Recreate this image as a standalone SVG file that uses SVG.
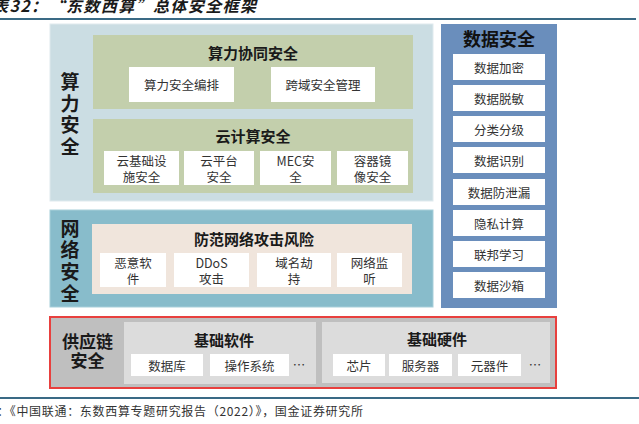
<svg xmlns="http://www.w3.org/2000/svg" width="639" height="424" viewBox="0 0 639 424">
<style>
text{font-family:"Noto Sans CJK SC","Noto Sans",sans-serif;fill:#262626;text-anchor:middle;dominant-baseline:central}
.wb{fill:#ffffff}
.t15{font-size:15px;font-weight:bold;fill:#1a1a1a}
.t13{font-size:12.5px;fill:#333333}
.big{font-size:19px;font-weight:bold;fill:#1a1a1a}
.rule{stroke:#3a6a85;stroke-width:2}
</style>
<rect width="639" height="424" fill="#ffffff"/>
<text x="-8" y="5" textLength="264" lengthAdjust="spacing" style="text-anchor:start;font-size:16px;font-style:italic;font-weight:bold;fill:#1a1a1a">表32：“东数西算”总体安全框架</text>
<line class="rule" x1="0" y1="19" x2="636" y2="19"/>
<line class="rule" x1="0" y1="398" x2="639" y2="398"/>
<text x="-3" y="410" textLength="366" lengthAdjust="spacing" style="text-anchor:start;font-size:12px;fill:#333333">：《中国联通：东数西算专题研究报告（2022）》，国金证券研究所</text>

<g id="compute-security">
<rect x="50" y="24" width="383" height="177" fill="#cbdde3" stroke="#dfeaee" stroke-width="1"/>
<text class="big"><tspan x="70" y="80">算</tspan><tspan x="70" y="102">力</tspan><tspan x="70" y="123">安</tspan><tspan x="70" y="145">全</tspan></text>
</g>
<g id="compute-collab">
<rect x="93" y="35" width="320" height="74" fill="#c3cfac"/>
<text class="t15" x="253" y="52">算力协同安全</text>
<rect class="wb" x="129" y="67" width="105" height="35"/>
<text class="t13" x="181.5" y="84.5">算力安全编排</text>
<rect class="wb" x="271" y="67" width="104" height="35"/>
<text class="t13" x="323" y="84.5">跨域安全管理</text>
</g>
<g id="cloud-security">
<rect x="93" y="119" width="320" height="74" fill="#c3cfac"/>
<text class="t15" x="253" y="135">云计算安全</text>
<rect class="wb" x="104" y="151" width="75" height="34"/>
<text class="t13"><tspan x="141.5" y="159.5">云基础设</tspan><tspan x="141.5" y="176">施安全</tspan></text>
<rect class="wb" x="184" y="151" width="70" height="34"/>
<text class="t13"><tspan x="219" y="159.5">云平台</tspan><tspan x="219" y="176">安全</tspan></text>
<rect class="wb" x="260" y="151" width="71" height="34"/>
<text class="t13"><tspan x="295.5" y="159.5">MEC安</tspan><tspan x="295.5" y="176">全</tspan></text>
<rect class="wb" x="337" y="151" width="71" height="34"/>
<text class="t13"><tspan x="372.5" y="159.5">容器镜</tspan><tspan x="372.5" y="176">像安全</tspan></text>
</g>

<g id="network-security">
<rect x="50" y="210" width="383" height="97" fill="#88bccb" stroke="#a7cfda" stroke-width="1"/>
<text class="big"><tspan x="70" y="227">网</tspan><tspan x="70" y="248">络</tspan><tspan x="70" y="270">安</tspan><tspan x="70" y="292">全</tspan></text>
</g>
<g id="network-risk">
<rect x="92" y="224" width="320" height="70" fill="#f0e5dc"/>
<text class="t15" x="254" y="238">防范网络攻击风险</text>
<rect class="wb" x="100" y="253" width="66" height="34"/>
<text class="t13"><tspan x="133" y="262">恶意软</tspan><tspan x="133" y="278">件</tspan></text>
<rect class="wb" x="174" y="253" width="75" height="34"/>
<text class="t13"><tspan x="211.5" y="262">DDoS</tspan><tspan x="211.5" y="278">攻击</tspan></text>
<rect class="wb" x="257" y="253" width="74" height="34"/>
<text class="t13"><tspan x="294" y="262">域名劫</tspan><tspan x="294" y="278">持</tspan></text>
<rect class="wb" x="337" y="253" width="65" height="34"/>
<text class="t13"><tspan x="369.5" y="262">网络监</tspan><tspan x="369.5" y="278">听</tspan></text>
</g>

<g id="data-security">
<rect x="441" y="24" width="116" height="284" fill="#6a8ebc"/>
<text x="499" y="38" style="font-size:18px;font-weight:bold;fill:#111111">数据安全</text>
<rect class="wb" x="453" y="54" width="92" height="26"/>
<text class="t13" x="499" y="67">数据加密</text>
<rect class="wb" x="453" y="85" width="92" height="26"/>
<text class="t13" x="499" y="98">数据脱敏</text>
<rect class="wb" x="453" y="116" width="92" height="26"/>
<text class="t13" x="499" y="129">分类分级</text>
<rect class="wb" x="453" y="147" width="92" height="26"/>
<text class="t13" x="499" y="160">数据识别</text>
<rect class="wb" x="453" y="179" width="92" height="26"/>
<text class="t13" x="499" y="192">数据防泄漏</text>
<rect class="wb" x="453" y="210" width="92" height="26"/>
<text class="t13" x="499" y="223">隐私计算</text>
<rect class="wb" x="453" y="241" width="92" height="26"/>
<text class="t13" x="499" y="254">联邦学习</text>
<rect class="wb" x="453" y="272" width="92" height="26"/>
<text class="t13" x="499" y="285">数据沙箱</text>
</g>

<g id="supply-chain">
<rect x="50" y="317" width="506" height="71" fill="#bfbfbf" stroke="#e8403e" stroke-width="2"/>
<text style="font-size:17px;font-weight:bold;fill:#1a1a1a"><tspan x="87.5" y="340">供应链</tspan><tspan x="87.5" y="359">安全</tspan></text>
</g>
<g id="basic-software">
<rect x="124" y="322" width="192" height="62" fill="#dcdcdc"/>
<text class="t15" x="224" y="339">基础软件</text>
<rect class="wb" x="131" y="354" width="72" height="22"/>
<text class="t13" x="167" y="365">数据库</text>
<rect class="wb" x="210" y="354" width="79" height="22"/>
<text class="t13" x="249.5" y="365">操作系统</text>
<text class="t13" x="299" y="364">…</text>
</g>
<g id="basic-hardware">
<rect x="322" y="322" width="228" height="61" fill="#dcdcdc"/>
<text class="t15" x="437" y="338">基础硬件</text>
<rect class="wb" x="333" y="354" width="52" height="22"/>
<text class="t13" x="359" y="365">芯片</text>
<rect class="wb" x="389" y="354" width="63" height="22"/>
<text class="t13" x="420.5" y="365">服务器</text>
<rect class="wb" x="458" y="354" width="63" height="22"/>
<text class="t13" x="489.5" y="365">元器件</text>
<text class="t13" x="535" y="364">…</text>
</g>
</svg>
